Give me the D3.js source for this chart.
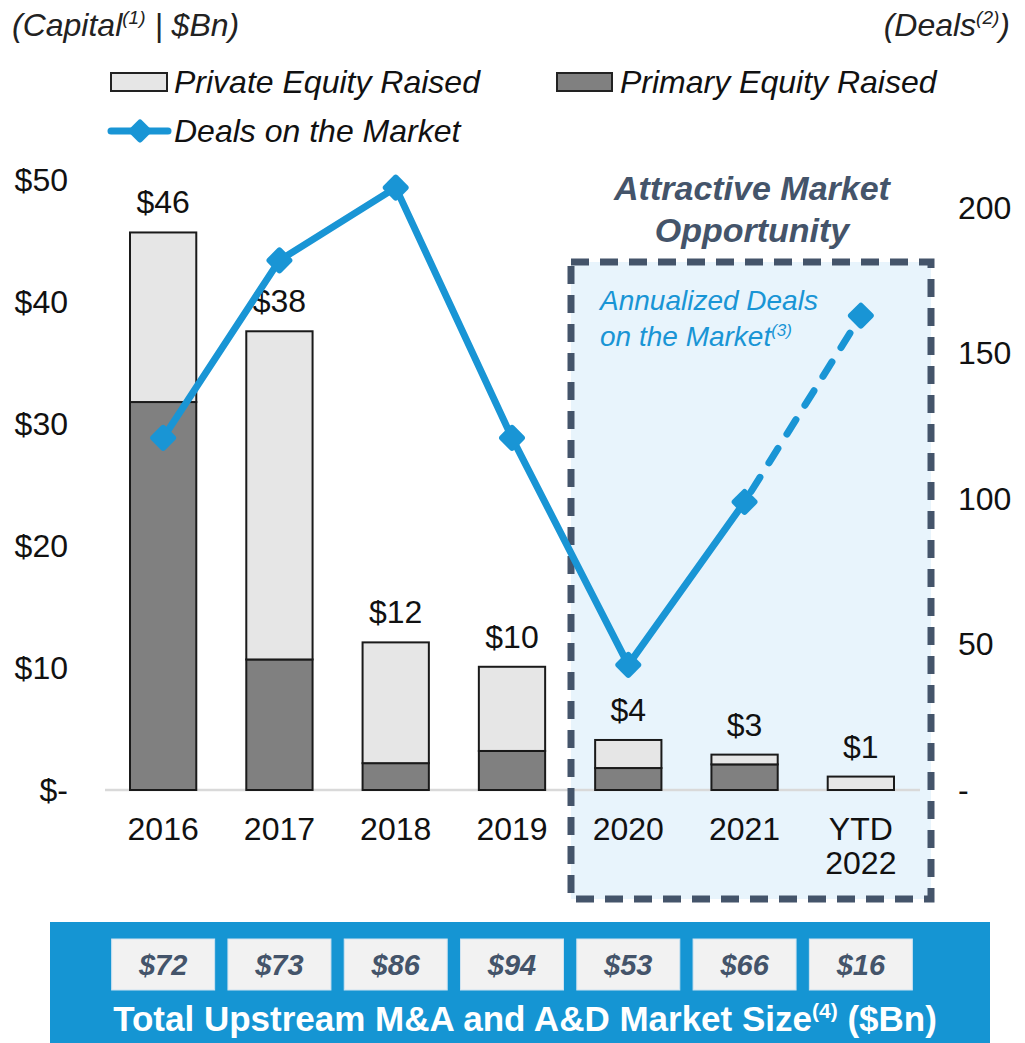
<!DOCTYPE html>
<html>
<head>
<meta charset="utf-8">
<script src="https://cdn.jsdelivr.net/npm/d3@7"></script>
<style>
    body { margin: 0; background: #fff; }
    text { font-family: "Liberation Sans", Arial, sans-serif; }
</style>
</head>
<body>
<div id="chart"></div>
<script>
// values
const years = ["2016", "2017", "2018", "2019", "2020", "2021", "YTD 2022"];
const primaryEquity = [31.8, 10.7, 2.2, 3.2, 1.8, 2.1, 0];
const privateEquity = [13.9, 26.9, 9.9, 6.9, 2.3, 0.8, 1.1];
const totalLabels = ["$46", "$38", "$12", "$10", "$4", "$3", "$1"];
const deals = [121, 182, 207, 121, 43, 99, 163];
const marketSize = [72, 73, 86, 94, 53, 66, 16];
const leftTicks = [0, 10, 20, 30, 40, 50];
const rightTicks = [0, 50, 100, 150, 200];

const W = 1025, H = 1043;
const blue = "#1995d5", slate = "#44546a";
const fs = 32; // main text size

const svg = d3.select("#chart").append("svg")
    .attr("width", W)
    .attr("height", H);

// scales
const x = d3.scaleBand()
    .domain(years)
    .range([105, 919])
    .paddingInner(0.43)
    .paddingOuter(0.215);

const y = d3.scaleLinear().domain([0, 50]).range([790, 180]);
const y2 = d3.scaleLinear().domain([0, 200]).range([790, 208]);

const cx = d => x(d) + x.bandwidth() / 2;

// highlight box (fill first, so the bars sit on it)
const boxL = 571, boxR = 931, boxT = 262, boxB = 899;
svg.append("rect")
    .attr("x", boxL).attr("y", boxT)
    .attr("width", boxR - boxL).attr("height", boxB - boxT)
    .attr("fill", "#e8f4fc");

// headers
svg.append("text")
    .attr("x", 12).attr("y", 36)
    .attr("font-size", fs).attr("font-style", "italic").attr("fill", "#222")
    .call(t => {
        t.append("tspan").text("(Capital");
        t.append("tspan").attr("font-size", 19).attr("dy", -12).text("(1)");
        t.append("tspan").attr("dy", 12).text(" | $Bn)");
    });

svg.append("text")
    .attr("x", 1010).attr("y", 36)
    .attr("text-anchor", "end")
    .attr("font-size", fs).attr("font-style", "italic").attr("fill", "#222")
    .call(t => {
        t.append("tspan").text("(Deals");
        t.append("tspan").attr("font-size", 19).attr("dy", -12).text("(2)");
        t.append("tspan").attr("dy", 12).text(")");
    });

// legend
const legend = svg.append("g").attr("font-size", fs).attr("font-style", "italic").attr("fill", "#111");
legend.append("rect").attr("x", 111).attr("y", 73).attr("width", 56).attr("height", 18)
    .attr("fill", "#e6e6e6").attr("stroke", "#222").attr("stroke-width", 2);
legend.append("text").attr("x", 174).attr("y", 93).text("Private Equity Raised");
legend.append("rect").attr("x", 557).attr("y", 73).attr("width", 55).attr("height", 18)
    .attr("fill", "#808080").attr("stroke", "#222").attr("stroke-width", 2);
legend.append("text").attr("x", 620).attr("y", 93).text("Primary Equity Raised");
legend.append("line").attr("x1", 111).attr("x2", 168).attr("y1", 131).attr("y2", 131)
    .attr("stroke", blue).attr("stroke-width", 7).attr("stroke-linecap", "round");
legend.append("rect").attr("x", -9).attr("y", -9).attr("width", 18).attr("height", 18).attr("rx", 3)
    .attr("fill", blue).attr("transform", "translate(140,131) rotate(45)");
legend.append("text").attr("x", 174).attr("y", 142).text("Deals on the Market");

// left axis
const yAxis = d3.axisLeft(y)
    .tickValues(leftTicks)
    .tickSize(0)
    .tickPadding(0)
    .tickFormat(d => d === 0 ? "$-" : "$" + d);
svg.append("g")
    .attr("transform", "translate(68,0)")
    .call(yAxis)
    .call(g => g.select(".domain").remove())
    .selectAll("text")
    .attr("font-size", fs).attr("fill", "#111")
    .attr("font-family", "Liberation Sans, Arial, sans-serif");

// right axis
const y2Axis = d3.axisRight(y2)
    .tickValues(rightTicks)
    .tickSize(0)
    .tickPadding(0)
    .tickFormat(d => d === 0 ? "-" : d);
svg.append("g")
    .attr("transform", "translate(958,0)")
    .call(y2Axis)
    .call(g => g.select(".domain").remove())
    .selectAll("text")
    .attr("font-size", fs).attr("fill", "#111")
    .attr("font-family", "Liberation Sans, Arial, sans-serif");

// baseline
svg.append("line")
    .attr("x1", 105).attr("x2", 920)
    .attr("y1", y(0)).attr("y2", y(0))
    .attr("stroke", "#d9d9d9").attr("stroke-width", 2.5);

// stacked bars
const stackData = years.map((yr, i) => ({ year: yr, primary: primaryEquity[i], priv: privateEquity[i] }));
const stacked = d3.stack().keys(["primary", "priv"])(stackData);
const fills = { primary: "#808080", priv: "#e6e6e6" };

svg.append("g").selectAll("g")
    .data(stacked)
    .join("g")
    .attr("fill", d => fills[d.key])
    .selectAll("rect")
    .data(d => d.filter(s => s[1] - s[0] > 0))
    .join("rect")
    .attr("x", d => x(d.data.year))
    .attr("y", d => y(d[1]))
    .attr("width", x.bandwidth())
    .attr("height", d => y(d[0]) - y(d[1]))
    .attr("stroke", "#1a1a1a")
    .attr("stroke-width", 2);

// total labels
svg.append("g").selectAll("text")
    .data(stackData)
    .join("text")
    .attr("x", d => cx(d.year))
    .attr("y", d => y(d.primary + d.priv) - 19)
    .attr("text-anchor", "middle")
    .attr("font-size", fs).attr("fill", "#111")
    .text((d, i) => totalLabels[i]);

// x labels
svg.append("g").selectAll("text")
    .data(years)
    .join("text")
    .attr("x", d => cx(d))
    .attr("y", 840)
    .attr("text-anchor", "middle")
    .attr("font-size", fs).attr("fill", "#111")
    .each(function (d) {
        const parts = d.split(" ");
        d3.select(this).selectAll("tspan")
            .data(parts)
            .join("tspan")
            .attr("x", cx(d))
            .attr("dy", (p, j) => j === 0 ? 0 : 34)
            .text(p => p);
    });

// dashed box outline
svg.append("rect")
    .attr("x", boxL).attr("y", boxT)
    .attr("width", boxR - boxL).attr("height", boxB - boxT)
    .attr("fill", "none")
    .attr("stroke", slate).attr("stroke-width", 7)
    .attr("stroke-dasharray", "18 11");

// box title
svg.append("text")
    .attr("x", 752).attr("y", 200)
    .attr("text-anchor", "middle")
    .attr("font-size", 34).attr("font-weight", "bold").attr("font-style", "italic")
    .attr("fill", slate)
    .call(t => {
        t.append("tspan").attr("x", 752).text("Attractive Market");
        t.append("tspan").attr("x", 752).attr("dy", 42).text("Opportunity");
    });

svg.append("text")
    .attr("x", 600).attr("y", 310)
    .attr("font-size", 28).attr("font-style", "italic").attr("fill", blue)
    .call(t => {
        t.append("tspan").attr("x", 600).text("Annualized Deals");
        t.append("tspan").attr("x", 600).attr("dy", 36).text("on the Market");
        t.append("tspan").attr("font-size", 17).attr("dy", -10).text("(3)");
    });

// deals line
const pts = years.map((yr, i) => [cx(yr), y2(deals[i])]);
const line = d3.line();
svg.append("path")
    .attr("d", line(pts.slice(0, 6)))
    .attr("fill", "none").attr("stroke", blue).attr("stroke-width", 7)
    .attr("stroke-linejoin", "round");
svg.append("path")
    .attr("d", line(pts.slice(5)))
    .attr("fill", "none").attr("stroke", blue).attr("stroke-width", 7)
    .attr("stroke-dasharray", "17 17").attr("stroke-dashoffset", -12)
    .attr("stroke-linecap", "round");

svg.append("g").selectAll("rect")
    .data(pts)
    .join("rect")
    .attr("x", -10).attr("y", -10).attr("width", 20).attr("height", 20).attr("rx", 3)
    .attr("fill", blue)
    .attr("transform", d => `translate(${d[0]},${d[1]}) rotate(45)`);

// bottom banner
svg.append("rect")
    .attr("x", 50).attr("y", 922)
    .attr("width", 940).attr("height", 121)
    .attr("fill", "#1595d3");

const boxW = 103;
const banner = svg.append("g").selectAll("g")
    .data(years)
    .join("g")
    .attr("transform", d => `translate(${cx(d)},0)`);
banner.append("rect")
    .attr("x", -boxW / 2).attr("y", 939)
    .attr("width", boxW).attr("height", 51)
    .attr("fill", "#f2f2f2")
    .attr("stroke", "#cfe3f1").attr("stroke-width", 1);
banner.append("text")
    .attr("y", 975)
    .attr("text-anchor", "middle")
    .attr("font-size", 29).attr("font-weight", "bold").attr("font-style", "italic")
    .attr("fill", slate)
    .text((d, i) => "$" + marketSize[i]);

svg.append("text")
    .attr("x", 525).attr("y", 1031)
    .attr("text-anchor", "middle")
    .attr("font-size", 35).attr("font-weight", "bold").attr("fill", "#fff")
    .call(t => {
        t.append("tspan").text("Total Upstream M&A and A&D Market Size");
        t.append("tspan").attr("font-size", 21).attr("dy", -13).text("(4)");
        t.append("tspan").attr("dy", 13).text(" ($Bn)");
    });
</script>
</body>
</html>
